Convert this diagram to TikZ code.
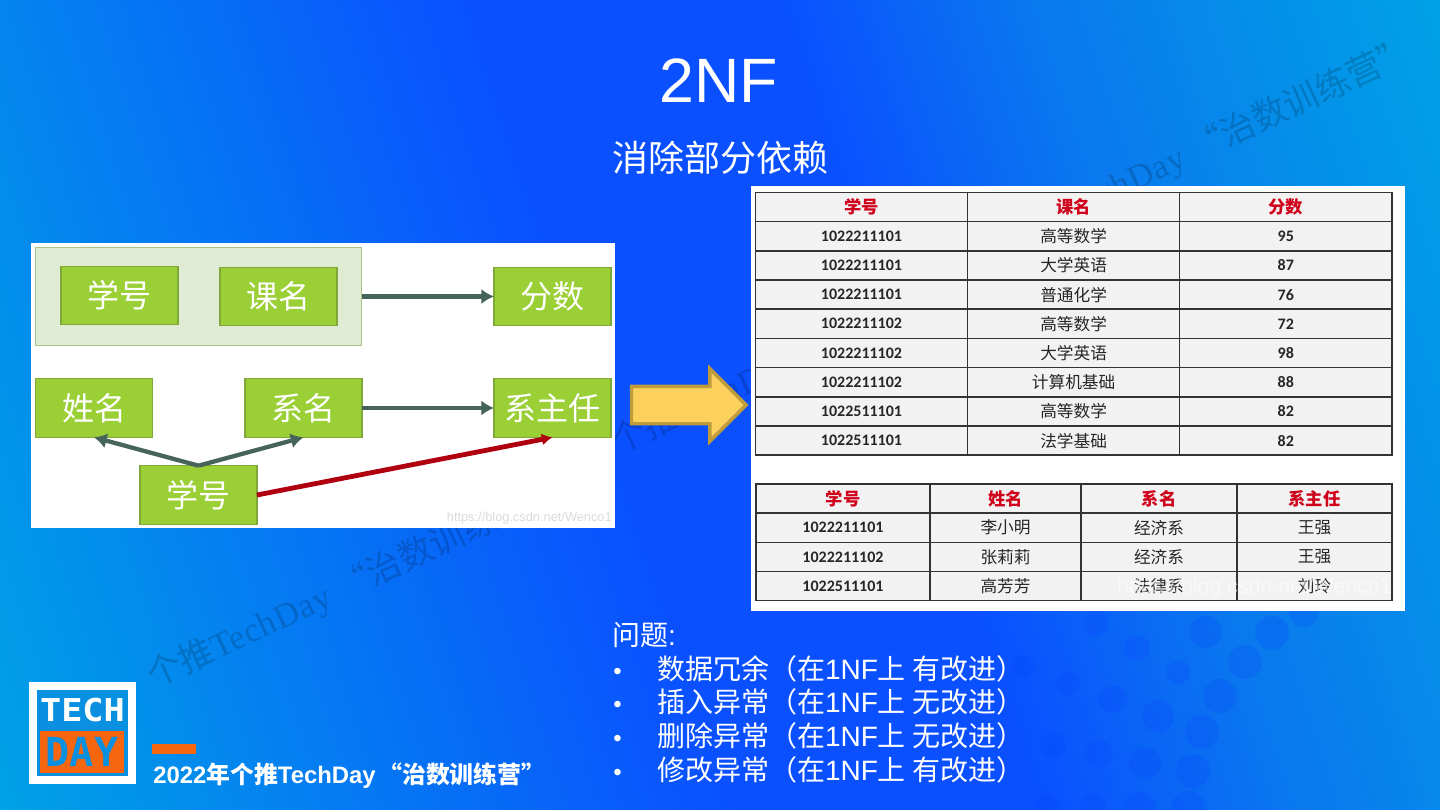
\documentclass[tikz,border=0pt]{standalone}
\usepackage{graphicx}
\usepackage{fontspec}
\usepackage{xcolor}
\usepackage{tikz}
\usetikzlibrary{shapes.arrows, arrows.meta, positioning}

\setmainfont{Liberation Sans}
\newfontfamily\cjk{Noto Sans CJK SC}
\newfontfamily\cali{Carlito}
\newfontfamily\serifwm{Liberation Serif}
\newfontfamily\pixelfont{DejaVu Sans Mono}
\newcommand{\zh}[1]{{\cjk #1}}

\definecolor{bgcyan}{HTML}{00A2E6}
\definecolor{bgblue}{HTML}{0A50FF}
\definecolor{bgmid}{HTML}{0A78EE}
\definecolor{dotblue}{HTML}{0840FF}
\definecolor{boxgreen}{HTML}{9BCF36}
\definecolor{boxedge}{HTML}{7FA838}
\definecolor{groupfill}{HTML}{DFEBD2}
\definecolor{groupedge}{HTML}{A9C48A}
\definecolor{linkgreen}{HTML}{46635C}
\definecolor{linkred}{HTML}{B0000F}
\definecolor{arrowfill}{HTML}{FCD05C}
\definecolor{arrowedge}{HTML}{BE9C3C}
\definecolor{headred}{HTML}{D0021B}
\definecolor{cellgray}{HTML}{F2F2F2}
\definecolor{logoblue}{HTML}{0A90E0}
\definecolor{logoorange}{HTML}{F5660F}

\pgfdeclarehorizontalshading{slidebg}{100bp}{
    color(0bp)=(bgcyan); color(18.5bp)=(bgcyan); color(45.6bp)=(bgblue);
    color(57bp)=(bgblue); color(66.4bp)=(bgmid); color(81.5bp)=(bgcyan); color(100bp)=(bgcyan)}

\begin{document}
\begin{tikzpicture}[
        x=0.75pt, y=-0.75pt,
        box/.style={rectangle, draw=boxedge, line width=0.8pt, fill=boxgreen, minimum width=87.75pt, minimum height=44pt, inner sep=0pt, outer sep=0pt, text=white, font=\cjk\fontsize{24}{28}\selectfont},
        keygroup/.style={rectangle, draw=groupedge, line width=0.8pt, fill=groupfill, minimum width=245pt, minimum height=74pt, outer sep=0pt},
        link/.style={-{Latex[length=9.5pt,width=11.5pt]}, line width=3.2pt, draw=linkgreen},
        redlink/.style={-{Latex[length=8pt,width=9pt]}, line width=3.6pt, draw=linkred},
        photo/.style={rectangle, fill=white, inner sep=0pt, outer sep=0pt},
        cell/.style={rectangle, draw=black!80, line width=1.1pt, fill=cellgray, minimum height=21.9pt, inner sep=0pt, outer sep=0pt, text=black!85},
        colb/.style={cell, minimum width=159.1pt},
        headb/.style={colb, text=headred, font=\cjk\bfseries\fontsize{13}{15}\selectfont},
        numb/.style={colb, font=\cali\bfseries\fontsize{12}{14}\selectfont},
        textb/.style={colb, font=\cjk\fontsize{12.5}{14}\selectfont},
        headc/.style={cell, text=headred, font=\cjk\bfseries\fontsize{13}{15}\selectfont},
        numc/.style={cell, font=\cali\bfseries\fontsize{12}{14}\selectfont},
        textc/.style={cell, font=\cjk\fontsize{12.5}{14}\selectfont},
        item/.style={text width=315pt, inner sep=0pt, outer sep=0pt, minimum height=25.2pt, text=white, font=\fontsize{21}{25}\selectfont},
        stamp/.style={rotate=25, anchor=base west, inner sep=0pt, text=black, text opacity=0.17, font=\fontsize{26}{30}\selectfont},
        csdn/.style={inner sep=0pt, font=\fontsize{9.6}{11}\selectfont, text=black!14}
    ]

    % Slide background
    \useasboundingbox (0,0) rectangle (1440,810);
    \shade[shading=slidebg, shading angle=18] (0,0) rectangle (1440,810);

    % Background dots
    \foreach \dx/\dy/\dr in {96/623/13, 206/632/16, 272/633/17, 304/612/15, 137/648/13, 245/662/17, 178/672/12, 23/667/12, 68/683/12, 113/699/14, 220/696/17, 158/716/16, 202/732/17, 53/745/13, 99/754/14, 145/763/16, 193/771/17, 47/807/13, 93/808/14, 140/808/16, 188/808/17} {
        \fill[dotblue, opacity=0.2] (1000+\dx,\dy) circle (\dr);
    }

    % Stamps
    \node[stamp] (stampa) at (154,689) {\zh{个推}{\serifwm\addfontfeature{LetterSpace=2}TechDay} \zh{“治数训练营”}};
    \node[stamp] (stampb) at (618,455) {\zh{个推}{\serifwm\addfontfeature{LetterSpace=2}TechDay} \zh{“治数训练营”}};
    \node[stamp] (stampc) at (1008,250) {\zh{个推}{\serifwm\addfontfeature{LetterSpace=2}TechDay} \zh{“治数训练营”}};

    % Title
    \node[text=white, font=\fontsize{47}{56}\selectfont] (title) at (719,81) {2NF};
    \node[text=white, font=\cjk\fontsize{27}{32}\selectfont] (subtitle) at (720,158) {消除部分依赖};

    % Dependency picture
    \node[photo, minimum width=438pt, minimum height=213.75pt] (leftpic) at (323,385.5) {};
    \node[keygroup] (keys) at (198.5,296.5) {};
    \node[box] (sno) at (119.5,295.5) {学号};
    \node[box, right=31.5pt of sno, yshift=-0.75pt] (cname) {课名};
    \node[box] (score) at (552.5,296.5) {分数};
    \node[box] (sname) at (94,408) {姓名};
    \node[box] (dept) at (303.5,408) {系名};
    \node[box] (head) at (552.5,408) {系主任};
    \node[box] (snob) at (198.5,495) {学号};
    \node[csdn, anchor=south east] (csdna) at (612,524) {https://blog.csdn.net/Wenco1};

    % Dependencies
    \draw[link] (keys) -- (score);
    \draw[link] (dept) -- (head);
    \draw[link] (snob.north) -- (sname.south);
    \draw[link] (snob.north) -- (dept.south);
    \draw[redlink] (snob.east) -- (head.south);

    % Big arrow
    \node[single arrow, draw=arrowedge, line width=2.6pt, fill=arrowfill, inner sep=0pt, outer sep=0pt, text height=25.5pt, text depth=0pt, minimum height=86pt, single arrow head extend=13.25pt, single arrow tip angle=90, anchor=tail] (turn) at (631.5,405) {};

    % Table picture
    \node[photo, minimum width=490.5pt, minimum height=318.75pt] (rightpic) at (1078,398.5) {};

    % Score table
    \node[headb] (ta01) at (861.5,207) {学号};
    \node[headb, right=0pt of ta01] (ta02) {课名};
    \node[headb, right=0pt of ta02] (ta03) {分数};
    \node[numb, below=0pt of ta01] (ta11) {1022211101};
    \node[textb, right=0pt of ta11] (ta12) {高等数学};
    \node[numb, right=0pt of ta12] (ta13) {95};
    \node[numb, below=0pt of ta11] (ta21) {1022211101};
    \node[textb, right=0pt of ta21] (ta22) {大学英语};
    \node[numb, right=0pt of ta22] (ta23) {87};
    \node[numb, below=0pt of ta21] (ta31) {1022211101};
    \node[textb, right=0pt of ta31] (ta32) {普通化学};
    \node[numb, right=0pt of ta32] (ta33) {76};
    \node[numb, below=0pt of ta31] (ta41) {1022211102};
    \node[textb, right=0pt of ta41] (ta42) {高等数学};
    \node[numb, right=0pt of ta42] (ta43) {72};
    \node[numb, below=0pt of ta41] (ta51) {1022211102};
    \node[textb, right=0pt of ta51] (ta52) {大学英语};
    \node[numb, right=0pt of ta52] (ta53) {98};
    \node[numb, below=0pt of ta51] (ta61) {1022211102};
    \node[textb, right=0pt of ta61] (ta62) {计算机基础};
    \node[numb, right=0pt of ta62] (ta63) {88};
    \node[numb, below=0pt of ta61] (ta71) {1022511101};
    \node[textb, right=0pt of ta71] (ta72) {高等数学};
    \node[numb, right=0pt of ta72] (ta73) {82};
    \node[numb, below=0pt of ta71] (ta81) {1022511101};
    \node[textb, right=0pt of ta81] (ta82) {法学基础};
    \node[numb, right=0pt of ta82] (ta83) {82};

    % Department table
    \node[headc, minimum width=130.5pt] (tb01) at (843,498.5) {学号};
    \node[headc, minimum width=113.25pt, right=0pt of tb01] (tb02) {姓名};
    \node[headc, minimum width=117pt, right=0pt of tb02] (tb03) {系名};
    \node[headc, minimum width=116.25pt, right=0pt of tb03] (tb04) {系主任};
    \node[numc, minimum width=130.5pt, below=0pt of tb01] (tb11) {1022211101};
    \node[textc, minimum width=113.25pt, right=0pt of tb11] (tb12) {李小明};
    \node[textc, minimum width=117pt, right=0pt of tb12] (tb13) {经济系};
    \node[textc, minimum width=116.25pt, right=0pt of tb13] (tb14) {王强};
    \node[numc, minimum width=130.5pt, below=0pt of tb11] (tb21) {1022211102};
    \node[textc, minimum width=113.25pt, right=0pt of tb21] (tb22) {张莉莉};
    \node[textc, minimum width=117pt, right=0pt of tb22] (tb23) {经济系};
    \node[textc, minimum width=116.25pt, right=0pt of tb23] (tb24) {王强};
    \node[numc, minimum width=130.5pt, below=0pt of tb21] (tb31) {1022511101};
    \node[textc, minimum width=113.25pt, right=0pt of tb31] (tb32) {高芳芳};
    \node[textc, minimum width=117pt, right=0pt of tb32] (tb33) {法律系};
    \node[textc, minimum width=116.25pt, right=0pt of tb33] (tb34) {刘玲};
    \node[csdn, anchor=east, font=\fontsize{16}{18}\selectfont, text=white, text opacity=0.55] (csdnb) at (1392,588) {https://blog.csdn.net/Wenco1};

    % Problems
    \node[item] (prob0) at (822,635) {\zh{问题}:};
    \node[item, below=0pt of prob0] (prob1) {\makebox[33.75pt][l]{\hspace{1pt}\fontsize{18}{18}\selectfont•}\zh{数据冗余（在}1NF\zh{上\hspace{5pt}有改进）}};
    \node[item, below=0pt of prob1] (prob2) {\makebox[33.75pt][l]{\hspace{1pt}\fontsize{18}{18}\selectfont•}\zh{插入异常（在}1NF\zh{上\hspace{5pt}无改进）}};
    \node[item, below=0pt of prob2] (prob3) {\makebox[33.75pt][l]{\hspace{1pt}\fontsize{18}{18}\selectfont•}\zh{删除异常（在}1NF\zh{上\hspace{5pt}无改进）}};
    \node[item, below=0pt of prob3] (prob4) {\makebox[33.75pt][l]{\hspace{1pt}\fontsize{18}{18}\selectfont•}\zh{修改异常（在}1NF\zh{上\hspace{5pt}有改进）}};

    % Logo
    \node[rectangle, draw=white, line width=6pt, fill=logoblue, minimum width=74.5pt, minimum height=70.5pt, outer sep=0pt] (logo) at (82.5,733) {};
    \node[text=white, inner sep=0pt, font=\pixelfont\bfseries\fontsize{23.6}{26}\selectfont] (logotech) at (82.5,710) {\scalebox{1.12}[1]{TECH}};
    \node[rectangle, fill=logoorange, minimum width=63pt, minimum height=31.5pt, inner sep=0pt] (logoplate) at (82,752) {};
    \node[text=logoblue, inner sep=0pt, font=\pixelfont\bfseries\fontsize{30}{32}\selectfont] (logoday) at (logoplate) {DAY};

    % Footer
    \node[rectangle, fill=logoorange, minimum width=33pt, minimum height=7.5pt, inner sep=0pt] (footbar) at (174,749) {};
    \node[anchor=west, inner sep=0pt, text=white, font=\bfseries\fontsize{17.9}{21}\selectfont] (foot) at (153,776) {2022\zh{\bfseries 年个推}TechDay\hspace{2pt}\zh{\bfseries “治数训练营”}};

\end{tikzpicture}
\end{document}
